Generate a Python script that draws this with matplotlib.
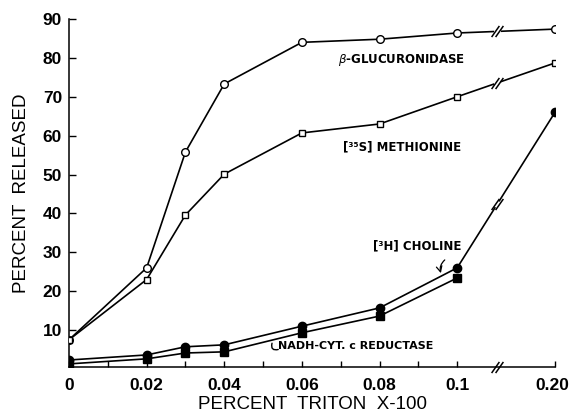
import numpy as np
import matplotlib
matplotlib.use('Agg')
import matplotlib.pyplot as plt
import matplotlib.transforms as mtransforms

# ---- data ----
triton = [0, 0.02, 0.03, 0.04, 0.06, 0.08, 0.1, 0.20]
glucuronidase = [7.5, 26, 55.8, 73.3, 84, 84.8, 86.4, 87.4]
methionine = [7.5, 23, 39.6, 50.1, 60.7, 63, 70, 78.7]
choline = [2.3, 3.6, 5.7, 6.2, 11, 15.7, 26, 66]
triton_nadh = [0, 0.02, 0.03, 0.04, 0.06, 0.08, 0.1]
nadh = [1.3, 2.6, 4.1, 4.4, 9.3, 13.6, 23.4]

xticks = [0, 0.02, 0.04, 0.06, 0.08, 0.1, 0.20]
xticklabels = ['0', '0.02', '0.04', '0.06', '0.08', '0.1', '0.20']
xminor = [0.01, 0.03, 0.05, 0.07, 0.09]
yticks = [10, 20, 30, 40, 50, 60, 70, 80, 90]
BREAK_X = 0.141

# broken x axis: linear 0..0.1, compressed 0.1..0.2
def fwd(x):
    x = np.asarray(x, dtype=float)
    return np.where(x <= 0.1, x / 0.02, 5 + (x - 0.1) / 0.1 * 1.26)

def inv(p):
    p = np.asarray(p, dtype=float)
    return np.where(p <= 5, p * 0.02, 0.1 + (p - 5) / 1.26 * 0.1)

plt.rcParams['font.family'] = ['DejaVu Sans']
fig = plt.figure(figsize=(5.72, 4.19), dpi=100)
ax = fig.add_axes([69/572, 1 - 367/419, (555-69)/572, (367-19)/419])
ax.set_xscale('function', functions=(fwd, inv))
ax.set_xlim(0, 0.20)
ax.set_ylim(0.5, 90)

lw = 1.2
ax.plot(triton, glucuronidase, color='black', lw=lw, marker='o', ms=5.5,
        mfc='white', mec='black', mew=1.0, zorder=3)
ax.plot(triton, methionine, color='black', lw=lw, marker='s', ms=5,
        mfc='white', mec='black', mew=1.0, zorder=3)
ax.plot(triton, choline, color='black', lw=lw, marker='o', ms=6,
        mfc='black', mec='black', zorder=3)
ax.plot(triton_nadh, nadh, color='black', lw=lw, marker='s', ms=5.5,
        mfc='black', mec='black', zorder=3)

# break marks on lines crossing the break
slash = [(-0.7, -1), (0.7, 1)]
for series in (glucuronidase, methionine, choline):
    yb = float(np.interp(fwd(BREAK_X), fwd(triton), series))
    ax.plot([BREAK_X], [yb], marker='o', ms=4, mfc='white', mec='white',
            zorder=3.5)
    for dx in (-0.0022, 0.0022):
        ax.plot([BREAK_X + dx], [yb], marker=slash, ms=8, mew=1.1,
                color='black', zorder=4)
# break mark on axis
for dx in (-0.0022, 0.0022):
    ax.plot([BREAK_X + dx], [0.5], marker=slash, ms=8, mew=1.1,
            color='black', zorder=5, clip_on=False)

# axes styling
for s in ('top', 'right'):
    ax.spines[s].set_visible(False)
for s in ('left', 'bottom'):
    ax.spines[s].set_linewidth(1.1)
ax.set_xticks(xticks)
ax.set_xticklabels(xticklabels)
ax.set_xticks(xminor, minor=True)
ax.set_yticks(yticks)
ax.set_yticklabels([str(v) for v in yticks])
ax.tick_params(axis='both', which='both', direction='in', width=1.0)
ax.tick_params(axis='y', which='major', length=5, pad=5)
ax.tick_params(axis='x', which='major', length=4, pad=8)
ax.tick_params(axis='x', which='minor', length=4)
for lab in ax.get_xticklabels() + ax.get_yticklabels():
    lab.set_fontsize(12.5)
    lab.set_fontweight('bold')
    lab.set_family('Liberation Sans')
last = ax.get_xticklabels()[-1]
last.set_transform(last.get_transform() +
                   mtransforms.ScaledTranslation(-3/100, 0, fig.dpi_scale_trans))

ax.set_xlabel('PERCENT  TRITON  X-100', fontsize=13.5, family='Liberation Sans',
              labelpad=2)
ax.set_ylabel('PERCENT  RELEASED', fontsize=13.5, family='Liberation Sans',
              labelpad=9)

# annotations
ax.text(0.0856, 79.4, r'$\beta$-GLUCURONIDASE', fontsize=8.5, fontweight='bold',
        ha='center', va='center')
ax.text(0.0858, 57.1, '[³⁵S] METHIONINE', fontsize=8.5, fontweight='bold',
        ha='center', va='center')
ax.text(0.0897, 31.6, '[³H] CHOLINE', fontsize=8.5, fontweight='bold',
        ha='center', va='center')
ax.text(0.0539, 5.9, 'NADH-CYT. c REDUCTASE', fontsize=8, fontweight='bold',
        ha='left', va='center')

# arrow to choline line
xa = 0.0958
ya = float(np.interp(fwd(xa), fwd(triton), choline))
ax.annotate('', xy=(xa, ya + 0.8), xytext=(xa + 0.001, ya + 4.2),
            arrowprops=dict(arrowstyle='->', lw=0.9, color='black',
                            connectionstyle='arc3,rad=0.3', shrinkA=0, shrinkB=0))
# hook to NADH line
xh = 0.0523
yh = float(np.interp(fwd(xh), fwd(triton_nadh), nadh))
ax.annotate('', xy=(xh, yh - 0.8), xytext=(0.0539, 5.0),
            arrowprops=dict(arrowstyle='-', lw=1.0, color='black',
                            connectionstyle='arc3,rad=-0.8', shrinkA=0, shrinkB=0))

fig.savefig('out.png', dpi=100)
